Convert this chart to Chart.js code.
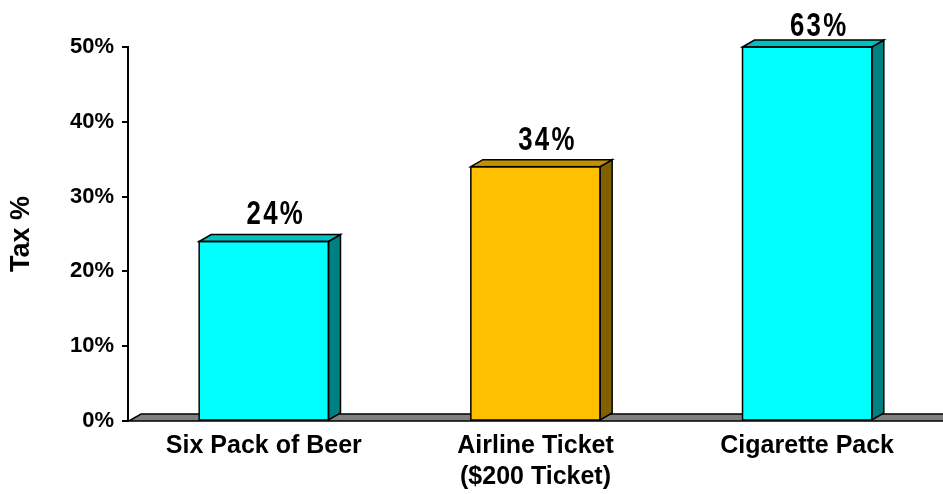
<!DOCTYPE html>
<html>
<head>
<meta charset="utf-8">
<script src="https://cdn.jsdelivr.net/npm/chart.js@4"></script>
<style>
  html, body { margin: 0; padding: 0; background: #fff; }
  #wrap { width: 943px; height: 494px; }
</style>
</head>
<body>
<div id="wrap"><canvas id="chart" width="943" height="494"></canvas></div>
<script>
// 品目ごとの税率
const categories = [["Six Pack of Beer"], ["Airline Ticket", "($200 Ticket)"], ["Cigarette Pack"]];
const taxRates = [24, 34, 63];
const yTicks = [0, 10, 20, 30, 40, 50];

const frontColors = ["#00FFFF", "#FFC000", "#00FFFF"];
const topColors = ["#00C0C0", "#C09000", "#00C0C0"];
const sideColors = ["#008080", "#806000", "#008080"];

const DX = 12, DY = 7; // 奥行き
const FONT = '"Liberation Sans", Arial, sans-serif';

// 床と棒の側面・上面を描く
const box3d = {
    id: "box3d",
    beforeDatasetsDraw(chart) {
        const ctx = chart.ctx;
        const a = chart.chartArea;
        const base = chart.scales.y.getPixelForValue(0);
        ctx.save();
        ctx.beginPath();
        ctx.moveTo(a.left + 1, base);
        ctx.lineTo(a.left + 1 + DX, base - DY);
        ctx.lineTo(chart.width + 2, base - DY);
        ctx.lineTo(chart.width + 2, base);
        ctx.closePath();
        ctx.fillStyle = "#808080";
        ctx.fill();
        ctx.lineWidth = 1.5;
        ctx.strokeStyle = "#000";
        ctx.stroke();
        ctx.restore();
    },
    afterDatasetsDraw(chart) {
        const ctx = chart.ctx;
        const a = chart.chartArea;
        const meta = chart.getDatasetMeta(0);
        ctx.save();
        ctx.lineWidth = 1.5;
        ctx.strokeStyle = "#000";
        meta.data.forEach((bar, i) => {
            const p = bar.getProps(["x", "y", "base", "width"], true);
            const l = p.x - p.width / 2, r = p.x + p.width / 2;
            const t = Math.max(p.y, a.top);
            // 側面
            ctx.beginPath();
            ctx.moveTo(r, t);
            ctx.lineTo(r + DX, t - DY);
            ctx.lineTo(r + DX, p.base - DY);
            ctx.lineTo(r, p.base);
            ctx.closePath();
            ctx.fillStyle = sideColors[i];
            ctx.fill();
            ctx.stroke();
            // 上面
            ctx.beginPath();
            ctx.moveTo(l, t);
            ctx.lineTo(l + DX, t - DY);
            ctx.lineTo(r + DX, t - DY);
            ctx.lineTo(r, t);
            ctx.closePath();
            ctx.fillStyle = topColors[i];
            ctx.fill();
            ctx.stroke();
            // 前面の枠
            ctx.strokeRect(l, t, r - l, p.base - t);

            // 値ラベル（縦長の字形）
            const ly = Math.max(t - DY - 10, 36);
            ctx.save();
            ctx.translate(p.x + DX, ly);
            ctx.scale(0.76, 1);
            ctx.fillStyle = "#000";
            ctx.font = "bold 34px " + FONT;
            ctx.textAlign = "center";
            ctx.textBaseline = "alphabetic";
            ctx.letterSpacing = "3px";
            ctx.fillText(taxRates[i] + "%", 0, 0);
            ctx.restore();
        });
        ctx.restore();
    }
};

const ctx = document.getElementById("chart").getContext("2d");
new Chart(ctx, {
    type: "bar",
    data: {
        labels: categories,
        datasets: [{
            data: taxRates,
            backgroundColor: frontColors,
            borderWidth: 0,
            barPercentage: 0.476,
            categoryPercentage: 1,
            clip: 0
        }]
    },
    options: {
        responsive: false,
        animation: false,
        layout: { padding: { left: 0, right: 0, top: 47, bottom: 0 } },
        plugins: { legend: { display: false }, tooltip: { enabled: false } },
        scales: {
            x: {
                grid: { display: false },
                border: { display: false },
                ticks: {
                    color: "#000",
                    padding: 1,
                    maxRotation: 0,
                    font: { family: FONT, size: 25, weight: "bold", lineHeight: 1.25 }
                },
                afterFit(scale) { scale.height = 73; }
            },
            y: {
                min: 0,
                max: 50,
                afterBuildTicks(scale) { scale.ticks = yTicks.map(v => ({ value: v })); },
                grid: { drawOnChartArea: false, tickLength: 6, color: "#000", lineWidth: 2 },
                border: { display: true, color: "#000", width: 2 },
                ticks: {
                    color: "#000",
                    padding: 8,
                    callback: v => v + "%",
                    font: { family: FONT, size: 22, weight: "bold" }
                },
                title: {
                    display: true,
                    text: "Tax %",
                    color: "#000",
                    padding: 5,
                    font: { family: FONT, size: 27, weight: "bold" }
                },
                afterFit(scale) { scale.width = 128; }
            }
        }
    },
    plugins: [box3d]
});
</script>
</body>
</html>
